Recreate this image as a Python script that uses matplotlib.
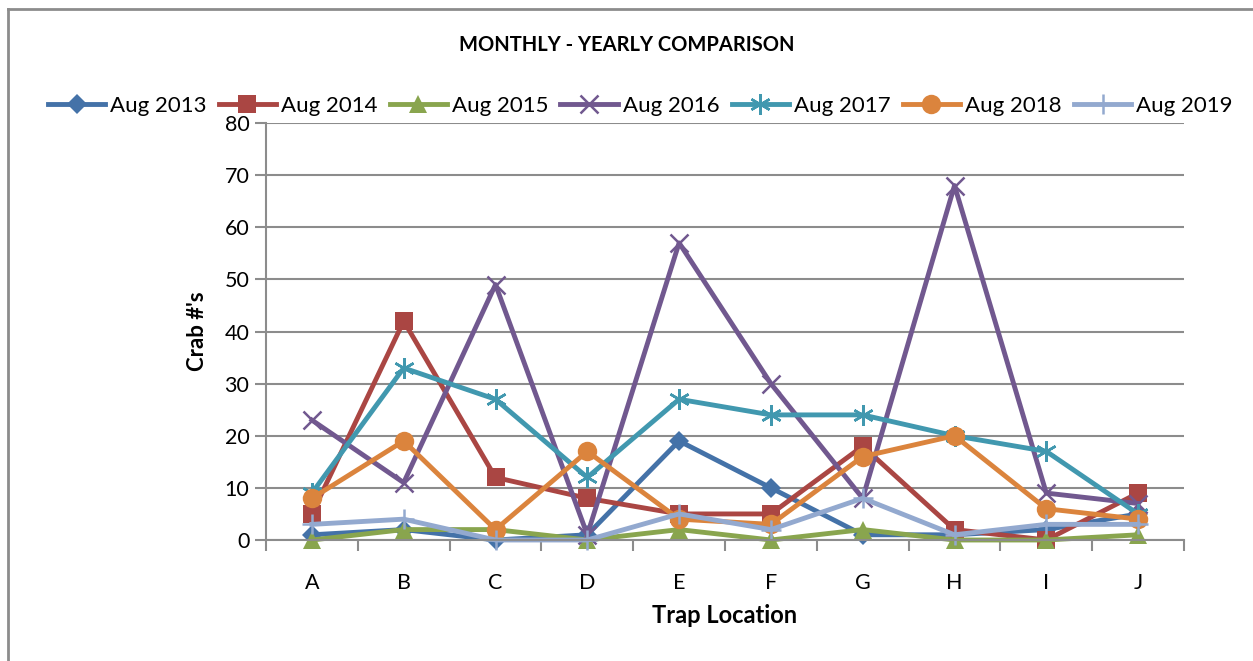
import numpy as np
import matplotlib
matplotlib.use("Agg")
from matplotlib import pyplot as plt
from matplotlib.lines import Line2D

plt.rcParams['font.family'] = ['Lato', 'DejaVu Sans']

# datos
traps = ["A", "B", "C", "D", "E", "F", "G", "H", "I", "J"]
aug_2013 = [1, 2, 0, 1, 19, 10, 1, 1, 2, 5]
aug_2014 = [5, 42, 12, 8, 5, 5, 18, 2, 0, 9]
aug_2015 = [0, 2, 2, 0, 2, 0, 2, 0, 0, 1]
aug_2016 = [23, 11, 49, 1, 57, 30, 8, 68, 9, 7]
aug_2017 = [9, 33, 27, 12, 27, 24, 24, 20, 17, 5]
aug_2018 = [8, 19, 2, 17, 4, 3, 16, 20, 6, 4]
aug_2019 = [3, 4, 0, 0, 5, 2, 8, 1, 3, 3]
etiquetas = ["Aug 2013", "Aug 2014", "Aug 2015", "Aug 2016", "Aug 2017", "Aug 2018", "Aug 2019"]

series = [aug_2013, aug_2014, aug_2015, aug_2016, aug_2017, aug_2018, aug_2019]
colores = ["#4472A8", "#AA4643", "#89A54E", "#71588F", "#4198AF", "#DB843D", "#93A9CF"]
marcadores = ["D", "s", "^", "x", (6, 2, 0), "o", "+"]
tamanos = [10, 13, 13, 13, 15, 14, 15]

fig = plt.figure(figsize=(12.53, 6.61), dpi=100)
ax = fig.add_axes([266/1253, 121/661, 918/1253, 417/661])

x = np.arange(len(traps))
for ys, c, m, s, lab in zip(series, colores, marcadores, tamanos, etiquetas):
    if m in ("x", "+") or isinstance(m, tuple):
        ax.plot(x, ys, color=c, lw=3.5, marker=m, ms=s, mew=1.8, label=lab, clip_on=False)
    else:
        ax.plot(x, ys, color=c, lw=3.5, marker=m, ms=s, mew=0, label=lab, clip_on=False)

gris = "#8C8C8C"
ax.set_xlim(-0.5, len(traps) - 0.5)
ax.set_ylim(0, 80)
ax.set_yticks(range(0, 81, 10))
ax.set_xticks(x)
ax.set_xticklabels(traps)
ax.set_xticks(np.arange(-0.5, len(traps)), minor=True)
ax.tick_params(axis="x", which="major", length=0, labelsize=15.5, pad=24)
ax.tick_params(axis="x", which="minor", length=8, color=gris, width=1.5)
ax.tick_params(axis="y", length=8, color=gris, width=1.5, labelsize=15.5, pad=4)
ax.grid(axis="y", color=gris, lw=1.5)
ax.set_axisbelow(True)
for lado in ["top", "right"]:
    ax.spines[lado].set_visible(False)
for lado in ["left", "bottom"]:
    ax.spines[lado].set_color(gris)
    ax.spines[lado].set_linewidth(1.5)

ax.set_xlabel("Trap Location", fontsize=17, fontweight="bold", labelpad=8)
ax.set_ylabel("Crab #'s", fontsize=16, fontweight="bold", labelpad=12)

fig.text(0.5, 1 - 45/661, "MONTHLY - YEARLY COMPARISON", ha="center", va="center",
         fontsize=14.5, fontweight="bold")

fig.legend(loc="center", bbox_to_anchor=(640/1253, 1 - 106/661), ncol=7, frameon=False,
           fontsize=16, handlelength=2.6, columnspacing=0.55, handletextpad=0.2,
           borderpad=0, borderaxespad=0)

# borde del grafico
fig.add_artist(Line2D([8/1253, 8/1253], [0, 1 - 9/661], color="#8C8C8C", lw=2, transform=fig.transFigure))
fig.add_artist(Line2D([8/1253, 1], [1 - 9/661, 1 - 9/661], color="#8C8C8C", lw=2, transform=fig.transFigure))

fig.savefig("out.png", dpi=100)
